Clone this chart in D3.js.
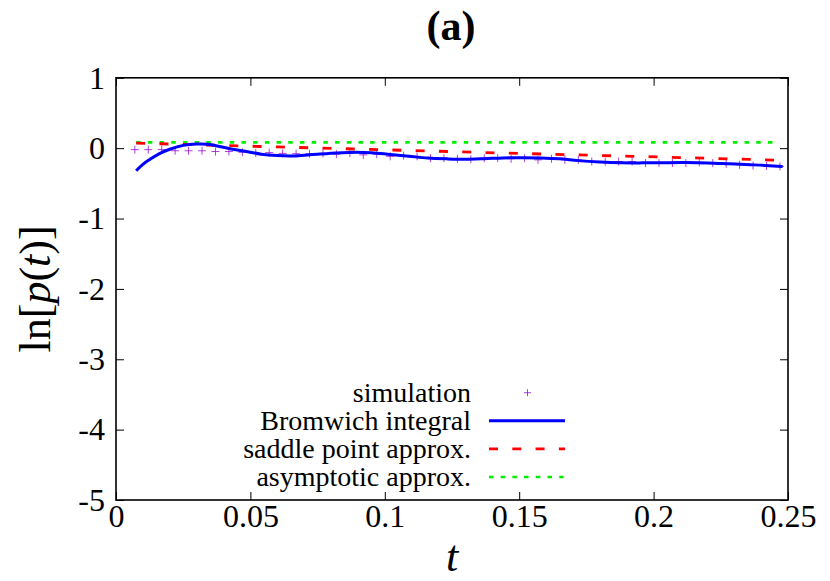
<!DOCTYPE html>
<html>
<head>
<meta charset="utf-8">
<script src="https://cdn.jsdelivr.net/npm/d3@7"></script>
<style>
  html, body { margin: 0; padding: 0; background: #fff; }
  svg { display: block; }
</style>
</head>
<body>
<svg id="chart" width="830" height="581"></svg>
<script>
// ---- data ----
const xTicks = [0, 0.05, 0.1, 0.15, 0.2, 0.25];
const xTickLabels = ["0", "0.05", "0.1", "0.15", "0.2", "0.25"];
const yTicks = [1, 0, -1, -2, -3, -4, -5];
const yTickLabels = ["1", "0", "-1", "-2", "-3", "-4", "-5"];

const seriesNames = ["simulation", "Bromwich integral", "saddle point approx.", "asymptotic approx."];

const simT = [0.007, 0.012, 0.017, 0.022, 0.027, 0.032, 0.037, 0.042, 0.047, 0.052,
              0.057, 0.062, 0.067, 0.072, 0.077, 0.082, 0.087, 0.092, 0.097, 0.102,
              0.107, 0.112, 0.117, 0.122, 0.127, 0.132, 0.137, 0.142, 0.147, 0.152,
              0.157, 0.162, 0.167, 0.172, 0.177, 0.182, 0.187, 0.192, 0.197, 0.202,
              0.207, 0.212, 0.217, 0.222, 0.227, 0.232, 0.237, 0.242, 0.247];
const simV = [-0.021, -0.021, -0.021, -0.037, -0.037, -0.037, -0.048, -0.048, -0.058, -0.069,
              -0.063, -0.074, -0.079, -0.079, -0.074, -0.085, -0.069, -0.095, -0.085, -0.116,
              -0.106, -0.116, -0.142, -0.142, -0.151, -0.157, -0.142, -0.142, -0.151, -0.142,
              -0.166, -0.151, -0.166, -0.166, -0.19, -0.19, -0.19, -0.19, -0.212, -0.212,
              -0.212, -0.212, -0.201, -0.212, -0.222, -0.237, -0.247, -0.252, -0.26];

const bromT = [0.0075, 0.010, 0.0126, 0.016, 0.020, 0.025, 0.030, 0.034, 0.039, 0.044,
               0.049, 0.054, 0.060, 0.066, 0.072, 0.079, 0.087, 0.095, 0.102, 0.109,
               0.116, 0.123, 0.130, 0.137, 0.144, 0.151, 0.158, 0.165, 0.172, 0.180,
               0.188, 0.196, 0.204, 0.212, 0.220, 0.228, 0.236, 0.242, 0.248];
const bromV = [-0.32, -0.23, -0.16, -0.08, -0.015, 0.04, 0.058, 0.055, 0.02, -0.02,
               -0.05, -0.085, -0.105, -0.11, -0.095, -0.075, -0.06, -0.065, -0.09, -0.115,
               -0.14, -0.152, -0.158, -0.15, -0.138, -0.135, -0.14, -0.152, -0.177, -0.196,
               -0.207, -0.209, -0.206, -0.205, -0.21, -0.222, -0.235, -0.246, -0.262];

const saddleT = [0.0075, 0.03, 0.06, 0.09, 0.12, 0.15, 0.18, 0.21, 0.245];
const saddleV = [0.072, 0.048, 0.018, -0.013, -0.044, -0.075, -0.104, -0.133, -0.17];

const asymT = [0.0075, 0.245];
const asymV = [0.082, 0.082];

// ---- layout ----
const FONT = "'Liberation Serif', 'DejaVu Serif', 'Noto Serif', Times, serif";
const svg = d3.select("#chart");
const L = 116, R = 788, T = 77.8, B = 500;
const x = d3.scaleLinear().domain([0, 0.25]).range([L, R]);
const y = d3.scaleLinear().domain([-5, 1]).range([B, T]);

const styleText = sel => sel.style("font-family", FONT).attr("fill", "#000");

// axes (ticks inward)
svg.append("g").attr("transform", `translate(0,${B})`)
  .call(d3.axisBottom(x).tickValues(xTicks).tickSize(-8).tickSizeOuter(0).tickPadding(4.5)
        .tickFormat((d, i) => xTickLabels[i]))
  .call(g => g.select(".domain").remove())
  .call(g => g.selectAll("line").attr("stroke", "#000").attr("stroke-width", 1))
  .call(g => g.selectAll("text").attr("font-size", 32).call(styleText));

svg.append("g").attr("transform", `translate(0,${T})`)
  .call(d3.axisTop(x).tickValues(xTicks).tickSize(-8).tickSizeOuter(0).tickFormat(""))
  .call(g => g.select(".domain").remove())
  .call(g => g.selectAll("line").attr("stroke", "#000").attr("stroke-width", 1));

svg.append("g").attr("transform", `translate(${L},0)`)
  .call(d3.axisLeft(y).tickValues(yTicks).tickSize(-8).tickSizeOuter(0).tickPadding(11)
        .tickFormat((d, i) => yTickLabels[i]))
  .call(g => g.select(".domain").remove())
  .call(g => g.selectAll("line").attr("stroke", "#000").attr("stroke-width", 1))
  .call(g => g.selectAll("text").attr("font-size", 32).call(styleText));

svg.append("g").attr("transform", `translate(${R},0)`)
  .call(d3.axisRight(y).tickValues(yTicks).tickSize(-8).tickSizeOuter(0).tickFormat(""))
  .call(g => g.select(".domain").remove())
  .call(g => g.selectAll("line").attr("stroke", "#000").attr("stroke-width", 1));

// frame
svg.append("rect").attr("x", L).attr("y", T).attr("width", R - L).attr("height", B - T)
  .attr("fill", "none").attr("stroke", "#000").attr("stroke-width", 1.6);

// series
const zip = (ts, vs) => ts.map((t, i) => [t, vs[i]]);
const line = d3.line().x(d => x(d[0])).y(d => y(d[1]));

svg.append("path").datum(zip(asymT, asymV)).attr("d", line)
  .attr("fill", "none").attr("stroke", "#00ee00").attr("stroke-width", 2.6)
  .attr("stroke-dasharray", "4.5,7.2");

svg.append("path").datum(zip(saddleT, saddleV)).attr("d", line)
  .attr("fill", "none").attr("stroke", "#ff0000").attr("stroke-width", 2.8)
  .attr("stroke-dasharray", "9,14.3");

const simG = svg.append("g");
const plus = (g, cx, cy, s) => {
  g.append("path").attr("d", `M${cx - s},${cy}H${cx + s}M${cx},${cy - s}V${cy + s}`)
    .attr("stroke", "#9400d3").attr("stroke-width", 1).attr("stroke-opacity", 0.75).attr("fill", "none");
};
zip(simT, simV).forEach(d => plus(simG, x(d[0]), y(d[1]), 4));

svg.append("path").datum(zip(bromT, bromV))
  .attr("d", d3.line().x(d => x(d[0])).y(d => y(d[1])).curve(d3.curveCatmullRom))
  .attr("fill", "none").attr("stroke", "#0000ff").attr("stroke-width", 3);

// legend
const legX = 471, legY0 = 401.7, legDy = 28.1, sx0 = 489, sx1 = 565;
const styles = [
  {type: "plus"},
  {stroke: "#0000ff", w: 3, dash: null},
  {stroke: "#ff0000", w: 2.8, dash: "9,14.3"},
  {stroke: "#00ee00", w: 2.6, dash: "4.5,7.2"}
];
seriesNames.forEach((name, i) => {
  const by = legY0 + i * legDy;
  svg.append("text").attr("x", legX).attr("y", by).attr("text-anchor", "end")
    .attr("font-size", 28).call(styleText).text(name);
  const ly = by - 9;
  const st = styles[i];
  if (st.type === "plus") {
    plus(svg, (sx0 + sx1) / 2 + 0.5, ly, 3.5);
  } else {
    const p = svg.append("line").attr("x1", sx0).attr("x2", sx1).attr("y1", ly).attr("y2", ly)
      .attr("stroke", st.stroke).attr("stroke-width", st.w);
    if (st.dash) p.attr("stroke-dasharray", st.dash);
  }
});

// title
svg.append("text").attr("x", 451).attr("y", 40).attr("text-anchor", "middle")
  .attr("font-size", 42).attr("font-weight", "bold").call(styleText).text("(a)");

// x label
svg.append("text").attr("x", 452).attr("y", 571).attr("text-anchor", "middle")
  .attr("font-size", 44).attr("font-style", "italic").call(styleText).text("t");

// y label
const yl = svg.append("text").attr("transform", `translate(50,${(T + B) / 2}) rotate(-90)`)
  .attr("text-anchor", "middle").attr("font-size", 44).call(styleText);
yl.append("tspan").text("ln[");
yl.append("tspan").attr("font-style", "italic").text("p");
yl.append("tspan").text("(");
yl.append("tspan").attr("font-style", "italic").text("t");
yl.append("tspan").text(")]");
</script>
</body>
</html>
